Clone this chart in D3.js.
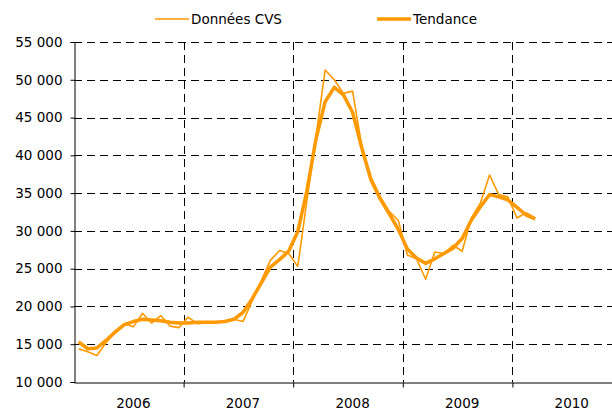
<!DOCTYPE html>
<html>
<head>
<meta charset="utf-8">
<script src="https://cdn.jsdelivr.net/npm/d3@7"></script>
<style>
  body { margin: 0; background: #fff; }
  text { font-family: "DejaVu Sans", Verdana, sans-serif; fill: #000; }
</style>
</head>
<body>
<div id="chart"></div>
<script>
// monthly series, Jan 2006 .. Mar 2010
const years = ["2006", "2007", "2008", "2009", "2010"]
const cvs = [
    14400, 14000, 13500, 15200, 16700, 17700, 17300, 19100, 17800, 18800, 17400, 17200,
    18600, 17700, 17800, 17900, 17900, 18300, 18000, 20700, 23400, 26100, 27400, 27000,
    25300, 34000, 42500, 51300, 50000, 48200, 48500, 41300, 37200, 34600, 32600, 31400,
    26800, 26300, 23600, 27200, 27000, 28100, 27300, 31700, 33700, 37400, 34800, 34500,
    31700, 32400, 31700
]
const tendance = [
    15300, 14400, 14500, 15500, 16600, 17600, 18000, 18300, 18200, 18100, 17900, 17800,
    17800, 17900, 17900, 17900, 18000, 18300, 19200, 21000, 23100, 25200, 26200, 27300,
    29900, 35300, 42200, 47100, 49000, 48000, 45700, 41000, 36800, 34300, 32300, 30200,
    27600, 26400, 25700, 26300, 27000, 27700, 29000, 31400, 33200, 34800, 34500, 34100,
    33100, 32100, 31600
]
const yTicks = [10000, 15000, 20000, 25000, 30000, 35000, 40000, 45000, 50000, 55000]
const legendNames = ["Données CVS", "Tendance"]

const W = 612, H = 411
const plotLeft = 74, plotTop = 42, plotBottom = 382, plotRight = 622
const orange = "#FF9900"

const svg = d3.select("#chart").append("svg")
    .attr("width", W)
    .attr("height", H)

// months since Jan 2006
const x = d3.scaleLinear().domain([0, years.length * 12]).range([plotLeft, plotRight])
const y = d3.scaleLinear().domain([10000, 55000]).range([plotBottom, plotTop])

const fmt = v => d3.format(",")(v).replace(",", " ")

// horizontal grid
svg.append("g")
    .selectAll("line")
    .data(yTicks.slice(1))
    .enter().append("line")
    .attr("x1", plotLeft).attr("x2", W)
    .attr("y1", d => Math.round(y(d)) + 0.5)
    .attr("y2", d => Math.round(y(d)) + 0.5)
    .attr("stroke", "#000")
    .attr("stroke-dasharray", "8,5")

// vertical grid at year boundaries
const yearBounds = d3.range(1, years.length).map(k => k * 12)
svg.append("g")
    .selectAll("line")
    .data(yearBounds)
    .enter().append("line")
    .attr("x1", d => Math.round(x(d)) + 0.5)
    .attr("x2", d => Math.round(x(d)) + 0.5)
    .attr("y1", plotTop).attr("y2", plotBottom)
    .attr("stroke", "#000")
    .attr("stroke-dasharray", "8,5")

// y axis
const yAxis = svg.append("g")
    .attr("transform", "translate(" + (plotLeft + 0.5) + ",0)")
    .call(d3.axisLeft(y).tickValues(yTicks).tickFormat(fmt).tickSize(4).tickPadding(8))
yAxis.select(".domain").attr("stroke", "#000")
yAxis.selectAll("text").style("font-size", "13.5px")

// x axis
const xAxis = svg.append("g")
    .attr("transform", "translate(0," + (plotBottom + 0.5) + ")")
    .call(d3.axisBottom(x).tickValues(yearBounds).tickFormat("").tickSize(5).tickSizeOuter(0))
xAxis.select(".domain").attr("stroke", "#000")

svg.append("g")
    .selectAll("text")
    .data(years)
    .enter().append("text")
    .attr("x", (d, i) => x(i * 12 + 6.5))
    .attr("y", plotBottom + 26)
    .attr("text-anchor", "middle")
    .style("font-size", "13.5px")
    .text(d => d)

// series
const line = d3.line()
    .x((d, i) => x(i + 0.5))
    .y(d => y(d))

svg.append("path")
    .datum(cvs)
    .attr("fill", "none")
    .attr("stroke", orange)
    .attr("stroke-width", 1.6)
    .attr("stroke-linejoin", "round")
    .attr("d", line)

svg.append("path")
    .datum(tendance)
    .attr("fill", "none")
    .attr("stroke", orange)
    .attr("stroke-width", 3.5)
    .attr("stroke-linejoin", "round")
    .attr("d", line)

// legend
const legendX = [155, 377]
const legendW = [1.6, 3.5]
const lg = svg.append("g")
legendNames.forEach((name, i) => {
    lg.append("line")
        .attr("x1", legendX[i]).attr("x2", legendX[i] + 34)
        .attr("y1", 19).attr("y2", 19)
        .attr("stroke", orange)
        .attr("stroke-width", legendW[i])
    lg.append("text")
        .attr("x", legendX[i] + 36)
        .attr("y", 24)
        .style("font-size", "13.5px")
        .text(name)
})
</script>
</body>
</html>
